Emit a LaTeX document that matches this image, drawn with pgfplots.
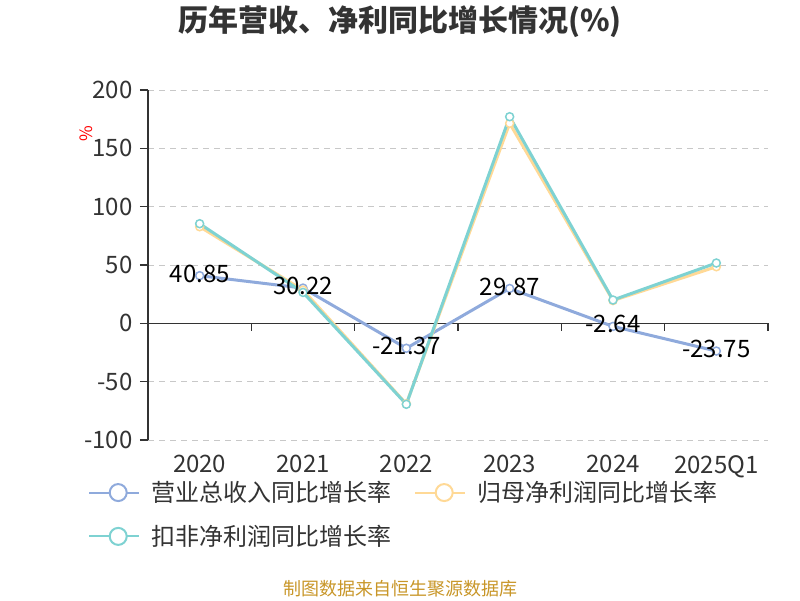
\documentclass[border=0pt]{standalone}
\usepackage{fontspec}
\setmainfont{Noto Sans CJK SC}
\usepackage{pgfplots}
\pgfplotsset{compat=1.18}
\usetikzlibrary{calc}
\definecolor{rev}{RGB}{143,170,220}
\definecolor{np}{RGB}{255,217,150}
\definecolor{dnp}{RGB}{126,210,210}
\definecolor{txt}{RGB}{51,51,51}
\definecolor{gridc}{RGB}{200,200,200}
\definecolor{gold}{RGB}{200,150,40}
\begin{document}
\begin{tikzpicture}[x=1pt,y=1pt]
\begin{axis}[
  at={(0,0)}, scale only axis,
  width=620pt, height=350pt,
  xmin=-0.5, xmax=5.5, ymin=-100, ymax=200,
  ytick={-100,-50,0,50,100,150,200},
  xtick={0,1,2,3,4,5},
  xticklabels={2020,2021,2022,2023,2024,2025Q1},
  axis y line*=left, axis x line*=bottom,
  x axis line style={draw=none},
  y axis line style={draw=txt, line width=1.3pt},
  major x tick style={draw=none},
  major y tick style={draw=txt, line width=1.3pt},
  tick align=outside, major tick length=8pt,
  ymajorgrids, grid style={gridc, line width=1pt, dash pattern=on 6pt off 5pt},
  /pgf/number format/assume math mode=true,
  tick label style={font=\fontsize{24}{24}\selectfont, text=txt},
  xticklabel style={yshift=-4pt},
  yticklabel style={xshift=-4pt},
  ylabel={\%}, ylabel style={at={(axis description cs:-0.099,0.876)}, anchor=center, text=red, font=\fontsize{17}{17}\selectfont},
  legend columns=2,
  legend style={at={(axis description cs:-0.1016,-0.107)}, anchor=north west, draw=none, fill=none,
    font=\fontsize{24}{24}\selectfont, text=txt, row sep=18pt,
    /tikz/every odd column/.append style={column sep=9pt},
    /tikz/every even column/.append style={column sep=21pt}},
  legend image code/.code={\draw[line width=2pt] (0pt,0pt) -- (50pt,0pt); \draw[line width=2pt, fill=white] (29pt,0pt) circle (8.5pt);},
  clip=false,
]
\coordinate (bl) at (rel axis cs:0,0);
\draw[txt, line width=1.3pt] (axis cs:-0.5,0) -- (axis cs:5.5,0);
\pgfplotsinvokeforeach{-0.5,0.5,1.5,2.5,3.5,4.5,5.5}{\draw[txt, line width=1.3pt] (axis cs:#1,0) -- ++(0pt,-8pt);}
\addplot[rev, line width=3pt, mark=*, mark size=4pt, mark options={fill=white, line width=1.5pt}] coordinates {(0,40.85) (1,30.22) (2,-21.37) (3,29.87) (4,-2.64) (5,-23.75)};
\addlegendentry{营业总收入同比增长率}
\addplot[np, line width=3pt, mark=*, mark size=4pt, mark options={fill=white, line width=1.5pt}] coordinates {(0,82.8) (1,28.5) (2,-69.0) (3,171.4) (4,19.5) (5,48.5)};
\addlegendentry{归母净利润同比增长率}
\addplot[dnp, line width=3pt, mark=*, mark size=4pt, mark options={fill=white, line width=1.5pt}] coordinates {(0,85.4) (1,26.5) (2,-69.4) (3,177.1) (4,20.0) (5,51.7)};
\addlegendentry{扣非净利润同比增长率}
\addplot[draw=none, forget plot, nodes near coords, point meta=explicit symbolic,
  every node near coord/.append style={anchor=center, yshift=2pt, font=\fontsize{24}{24}\selectfont, text=black}]
  coordinates {(0,40.85) [40.85] (1,30.22) [30.22] (2,-21.37) [-21.37] (3,29.87) [29.87] (4,-2.64) [-2.64] (5,-23.75) [-23.75]};
\end{axis}
\pgfresetboundingbox
\path[use as bounding box] ($(bl)+(-148,-160)$) rectangle ($(bl)+(652,440)$);
\node[font=\fontsize{30}{30}\selectfont\bfseries, text=txt] at ($(bl)+(252,418)$) {历年营收、净利同比增长情况(\%)};
\node[font=\fontsize{18}{18}\selectfont, text=gold] at ($(bl)+(252,-149)$) {制图数据来自恒生聚源数据库};
\end{tikzpicture}
\end{document}
